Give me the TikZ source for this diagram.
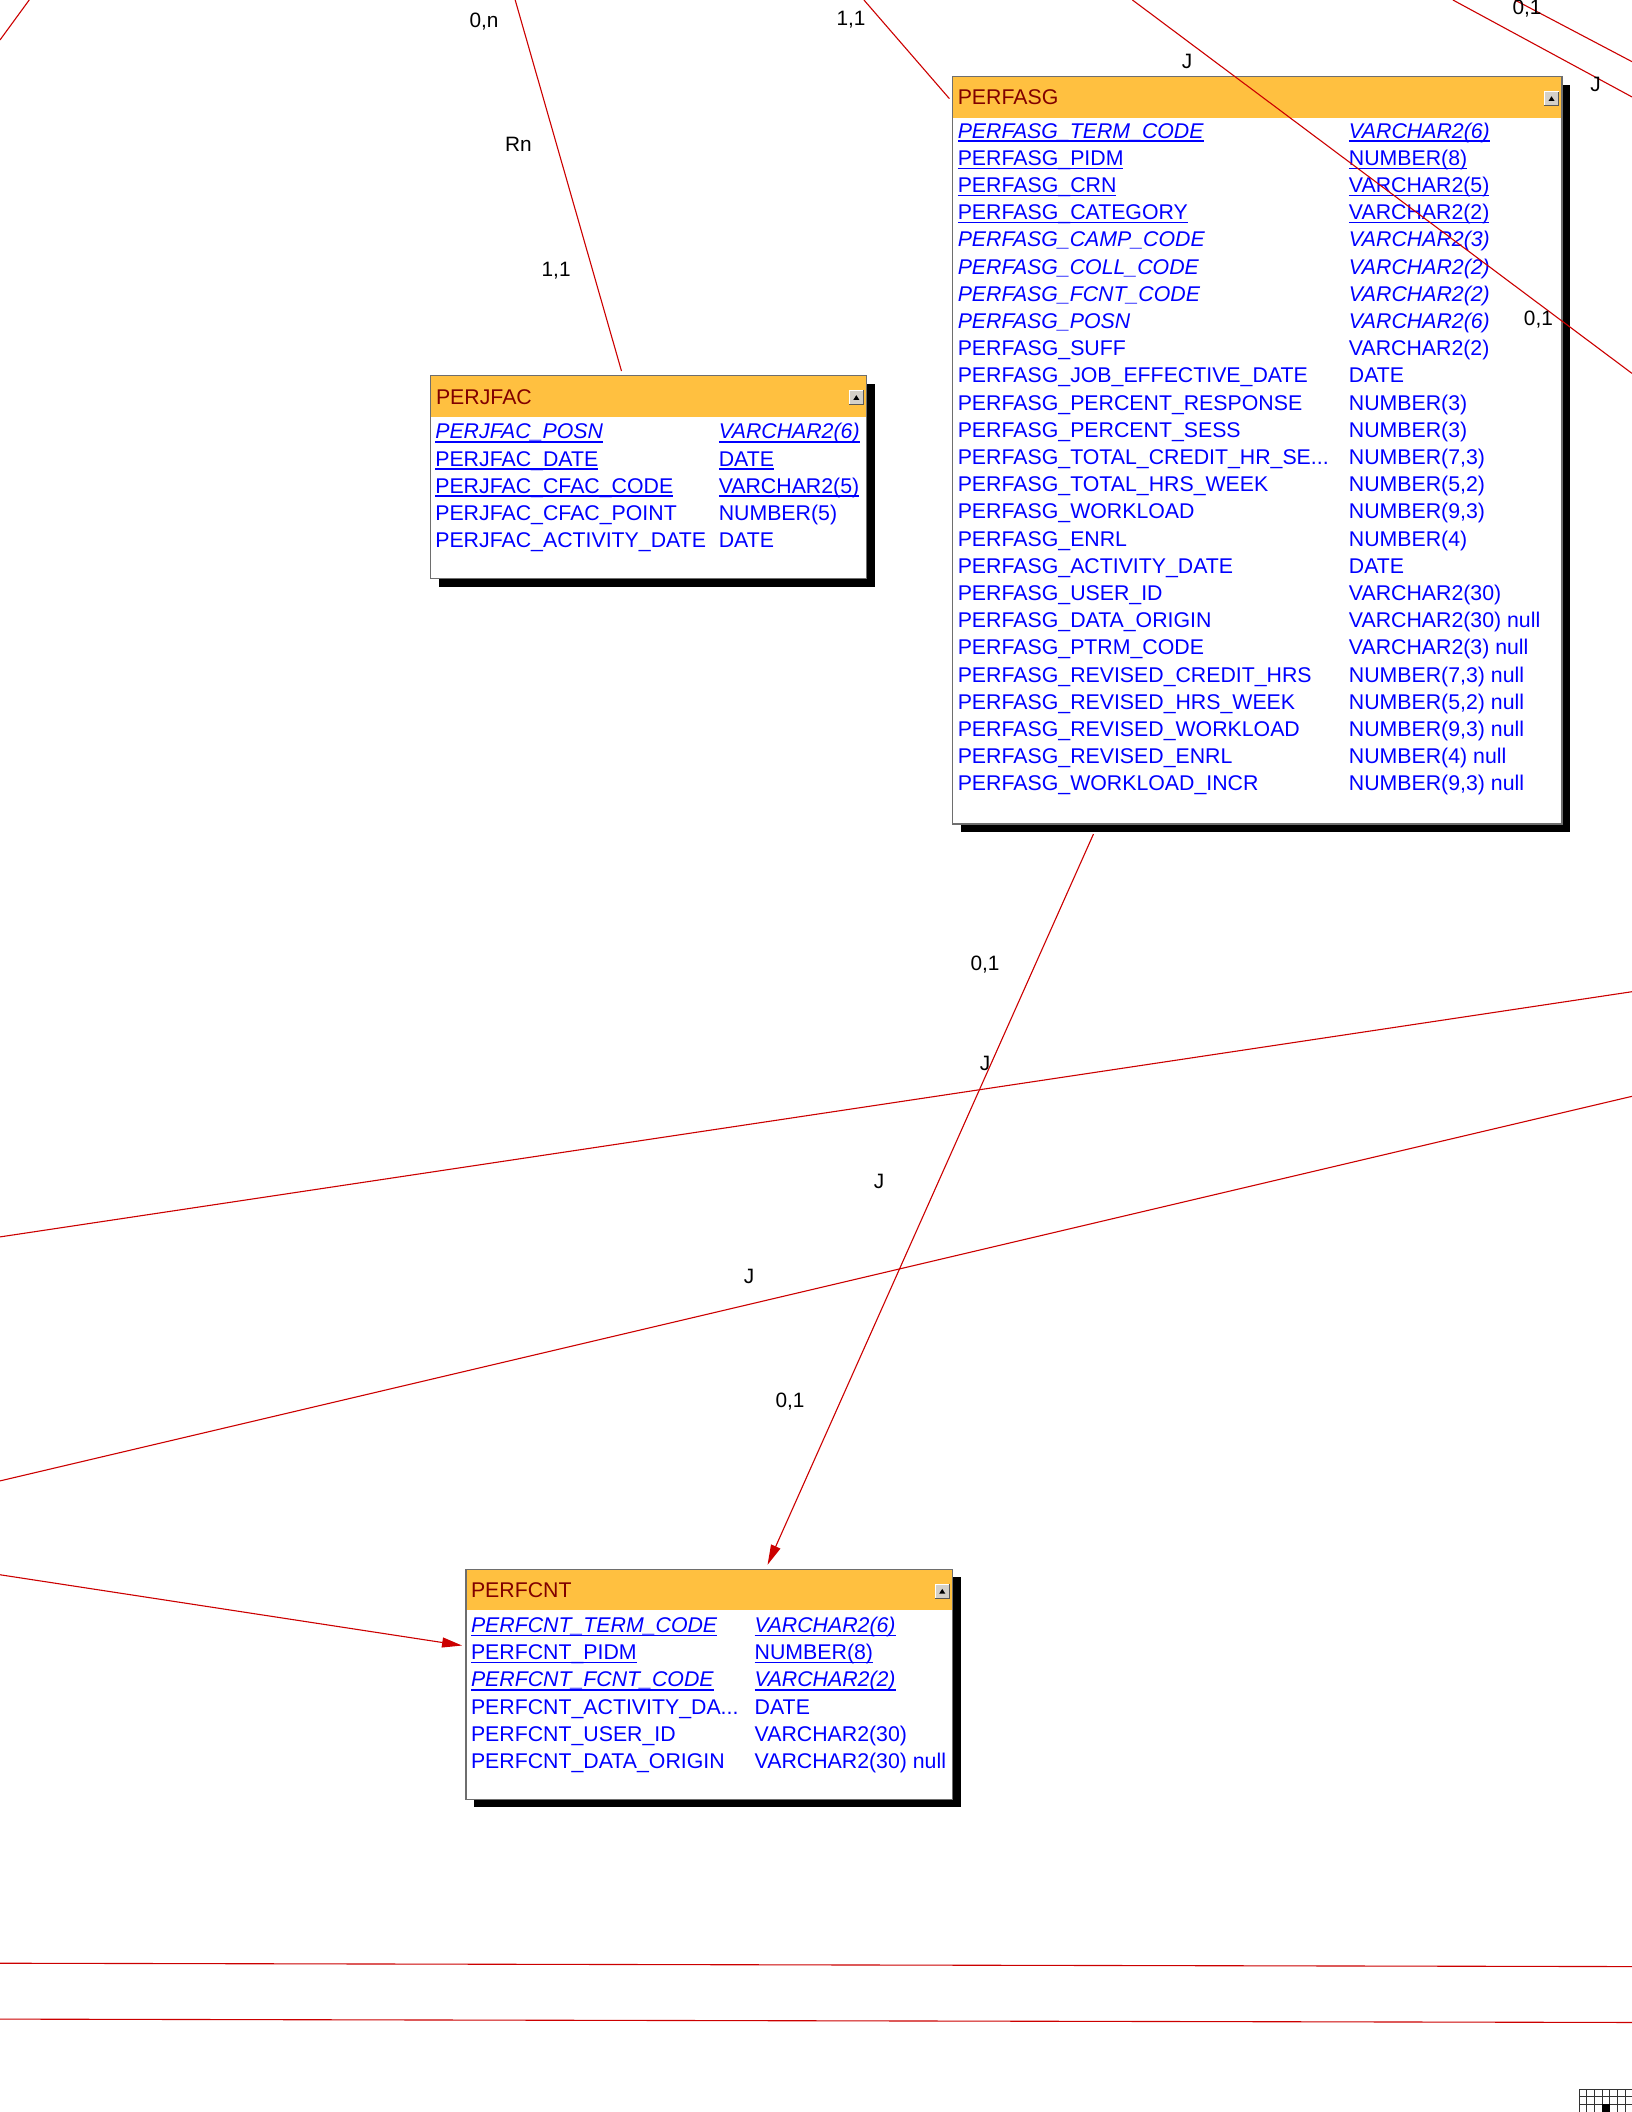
\documentclass[tikz,border=0pt]{standalone}
\usepackage{fontspec}
\setmainfont{Liberation Sans}
\usetikzlibrary{arrows.meta,fit}
\definecolor{hdr}{RGB}{255,192,64}
\definecolor{ttl}{RGB}{128,0,0}
\definecolor{fldc}{RGB}{0,0,255}
\definecolor{lnk}{RGB}{204,0,0}
\definecolor{bord}{RGB}{110,110,110}
\definecolor{btn}{RGB}{212,208,200}
\newcounter{rw}
\newcommand\fu[1]{\setbox0=\hbox{#1}\rlap{\vrule width\wd0 height -1.1pt depth 1.85pt}\box0}
\newcommand\frow[5]{\stepcounter{rw}%
  \node[fld] (n\arabic{rw}) at (#1,#3+5.6) {#4};
  \node[fld] (v\arabic{rw}) at (#2,#3+5.6) {#5};}
\newcommand\erbox[7]{%
  \fill[black] (#2+6,#3+6) rectangle (#4+6,#5+6);
  \fill[white] (#2,#6) rectangle (#4,#5);
  \fill[hdr] (#2,#3) rectangle (#4,#6);
  \node[fit={(#2,#3) (#4,#5)}, inner sep=0pt, draw=bord, line width=0.6pt] (#1) {};
  \node[anchor=base west, inner sep=0pt, text=ttl] (#1-t) at (#2+3.5,{(#3+#6)/2+5.6}) {#7};
  \fill[btn] (#4-13,#3+11) rectangle (#4-2.5,#3+21.5);
  \draw[white, line width=0.4pt] (#4-13,#3+21.5) -- (#4-13,#3+11) -- (#4-2.5,#3+11);
  \draw[black!65, line width=0.5pt] (#4-13,#3+21.5) -- (#4-2.5,#3+21.5) -- (#4-2.5,#3+11);
  \fill[black] (#4-10,#3+18) -- (#4-5.5,#3+18) -- (#4-7.75,#3+14.5) -- cycle;
}
\begin{document}
\begin{tikzpicture}[x=0.67325pt,y=-0.67325pt,
  font=\fontsize{10.65pt}{12pt}\selectfont,
  fld/.style={anchor=base west, inner sep=0pt, text=fldc},
  lbl/.style={anchor=base, inner sep=0pt, text=black, font=\fontsize{10.4pt}{12pt}\selectfont},
  link/.style={draw=lnk, line width=0.55pt},
  arr/.style={link, -{Triangle[length=10pt,width=5pt]}, fill=none}]
\useasboundingbox (0,0) rectangle (1212,1568.5);
\fill[white] (0,0) rectangle (1212,1568.5);

% ---------- tables ----------
\erbox{perfasg}{707.5}{57}{1160}{612}{87.3}{PERFASG}
\frow{711}{1001.5}{97+20.2*0}{\fu{\itshape PERFASG\_TERM\_CODE}}{\fu{\itshape VARCHAR2(6)}}
\frow{711}{1001.5}{97+20.2*1}{\fu{PERFASG\_PIDM}}{\fu{NUMBER(8)}}
\frow{711}{1001.5}{97+20.2*2}{\fu{PERFASG\_CRN}}{\fu{VARCHAR2(5)}}
\frow{711}{1001.5}{97+20.2*3}{\fu{PERFASG\_CATEGORY}}{\fu{VARCHAR2(2)}}
\frow{711}{1001.5}{97+20.2*4}{\itshape PERFASG\_CAMP\_CODE}{\itshape VARCHAR2(3)}
\frow{711}{1001.5}{97+20.2*5}{\itshape PERFASG\_COLL\_CODE}{\itshape VARCHAR2(2)}
\frow{711}{1001.5}{97+20.2*6}{\itshape PERFASG\_FCNT\_CODE}{\itshape VARCHAR2(2)}
\frow{711}{1001.5}{97+20.2*7}{\itshape PERFASG\_POSN}{\itshape VARCHAR2(6)}
\frow{711}{1001.5}{97+20.2*8}{PERFASG\_SUFF}{VARCHAR2(2)}
\frow{711}{1001.5}{97+20.2*9}{PERFASG\_JOB\_EFFECTIVE\_DATE}{DATE}
\frow{711}{1001.5}{97+20.2*10}{PERFASG\_PERCENT\_RESPONSE}{NUMBER(3)}
\frow{711}{1001.5}{97+20.2*11}{PERFASG\_PERCENT\_SESS}{NUMBER(3)}
\frow{711}{1001.5}{97+20.2*12}{PERFASG\_TOTAL\_CREDIT\_HR\_SE...}{NUMBER(7,3)}
\frow{711}{1001.5}{97+20.2*13}{PERFASG\_TOTAL\_HRS\_WEEK}{NUMBER(5,2)}
\frow{711}{1001.5}{97+20.2*14}{PERFASG\_WORKLOAD}{NUMBER(9,3)}
\frow{711}{1001.5}{97+20.2*15}{PERFASG\_ENRL}{NUMBER(4)}
\frow{711}{1001.5}{97+20.2*16}{PERFASG\_ACTIVITY\_DATE}{DATE}
\frow{711}{1001.5}{97+20.2*17}{PERFASG\_USER\_ID}{VARCHAR2(30)}
\frow{711}{1001.5}{97+20.2*18}{PERFASG\_DATA\_ORIGIN}{VARCHAR2(30) null}
\frow{711}{1001.5}{97+20.2*19}{PERFASG\_PTRM\_CODE}{VARCHAR2(3) null}
\frow{711}{1001.5}{97+20.2*20}{PERFASG\_REVISED\_CREDIT\_HRS}{NUMBER(7,3) null}
\frow{711}{1001.5}{97+20.2*21}{PERFASG\_REVISED\_HRS\_WEEK}{NUMBER(5,2) null}
\frow{711}{1001.5}{97+20.2*22}{PERFASG\_REVISED\_WORKLOAD}{NUMBER(9,3) null}
\frow{711}{1001.5}{97+20.2*23}{PERFASG\_REVISED\_ENRL}{NUMBER(4) null}
\frow{711}{1001.5}{97+20.2*24}{PERFASG\_WORKLOAD\_INCR}{NUMBER(9,3) null}

\erbox{perjfac}{320}{279}{643.7}{429.8}{310}{PERJFAC}
\frow{323}{533.5}{320.4+20.1*0}{\fu{\itshape PERJFAC\_POSN}}{\fu{\itshape VARCHAR2(6)}}
\frow{323}{533.5}{320.4+20.1*1}{\fu{PERJFAC\_DATE}}{\fu{DATE}}
\frow{323}{533.5}{320.4+20.1*2}{\fu{PERJFAC\_CFAC\_CODE}}{\fu{VARCHAR2(5)}}
\frow{323}{533.5}{320.4+20.1*3}{PERJFAC\_CFAC\_POINT}{NUMBER(5)}
\frow{323}{533.5}{320.4+20.1*4}{PERJFAC\_ACTIVITY\_DATE}{DATE}

\erbox{perfcnt}{346}{1165.5}{707.5}{1336.3}{1196}{PERFCNT}
\frow{349.5}{560.2}{1206.8+20.2*0}{\fu{\itshape PERFCNT\_TERM\_CODE}}{\fu{\itshape VARCHAR2(6)}}
\frow{349.5}{560.2}{1206.8+20.2*1}{\fu{PERFCNT\_PIDM}}{\fu{NUMBER(8)}}
\frow{349.5}{560.2}{1206.8+20.2*2}{\fu{\itshape PERFCNT\_FCNT\_CODE}}{\fu{\itshape VARCHAR2(2)}}
\frow{349.5}{560.2}{1206.8+20.2*3}{PERFCNT\_ACTIVITY\_DA...}{DATE}
\frow{349.5}{560.2}{1206.8+20.2*4}{PERFCNT\_USER\_ID}{VARCHAR2(30)}
\frow{349.5}{560.2}{1206.8+20.2*5}{PERFCNT\_DATA\_ORIGIN}{VARCHAR2(30) null}

% ---------- free ends ----------
\coordinate (e1a) at (21.7,0);     \coordinate (e1b) at (0,29.7);
\coordinate (e2)  at (382.6,0);
\coordinate (e3)  at (641.6,0);
\coordinate (e4a) at (841,0);      \coordinate (e4b) at (1212,277.3);
\coordinate (e5a) at (1079,0);     \coordinate (e5b) at (1212,72);
\coordinate (e6a) at (1125,0);     \coordinate (e6b) at (1212,45.8);
\coordinate (e8a) at (0,918.6);    \coordinate (e8b) at (1212,736.5);
\coordinate (e9a) at (0,1099.8);   \coordinate (e9b) at (1212,814.2);
\coordinate (e10) at (0,1169.5);
\coordinate (e11a) at (0,1458);    \coordinate (e11b) at (1212,1460.5);
\coordinate (e12a) at (0,1499.5);  \coordinate (e12b) at (1212,1502);

% ---------- connectors ----------
\draw[link] (e1a) -- (e1b);
\draw[link] (e2) -- ([shift={(142,-3)}]perjfac.north west);
\draw[link] (e3) -- ([shift={(-2,16.7)}]perfasg.north west);
\draw[link] (e4a) -- (e4b);
\draw[link] (e5a) -- (e5b);
\draw[link] (e6a) -- (e6b);
\draw[arr] ([shift={(105,7)}]perfasg.south west) -- ([shift={(224.5,-3)}]perfcnt.north west);
\draw[link] (e8a) -- (e8b);
\draw[link] (e9a) -- (e9b);
\draw[arr] (e10) -- ([shift={(-2.4,57)}]perfcnt.north west);
\draw[link] (e11a) -- (e11b);
\draw[link] (e12a) -- (e12b);

% ---------- labels ----------
\node[lbl] (l1)  at (359.5,15.4+5.3) {0,n};
\node[lbl] (l2)  at (385,107+5.3) {Rn};
\node[lbl] (l3)  at (413,200+5.3) {1,1};
\node[lbl] (l4)  at (632,13.6+5.3) {1,1};
\node[lbl] (l5)  at (881.5,45.8+5.3) {J};
\node[lbl] (l6)  at (1134,5.5+5.3) {0,1};
\node[lbl] (l7)  at (1185,63+5.3) {J};
\node[lbl] (l8)  at (1142.5,236.4+5.3) {0,1};
\node[lbl] (l9)  at (731.5,715.4+5.3) {0,1};
\node[lbl] (l10) at (731.5,789.7+5.3) {J};
\node[lbl] (l11) at (652.8,877.6+5.3) {J};
\node[lbl] (l12) at (556.3,947.7+5.3) {J};
\node[lbl] (l13) at (586.7,1040+5.3) {0,1};

% ---------- grid icon ----------
\foreach \k in {0,...,6}
  \draw[black!80, line width=0.4pt] (1172.7+\k*5.69,1551.7) -- (1172.7+\k*5.69,1568.5);
\foreach \yy in {1551.7,1557.2,1562.8}
  \draw[black!80, line width=0.4pt] (1172.7,\yy) -- (1212,\yy);
\fill[black] (1189.8,1562.8) rectangle (1195.5,1568.5);
\end{tikzpicture}
\end{document}
